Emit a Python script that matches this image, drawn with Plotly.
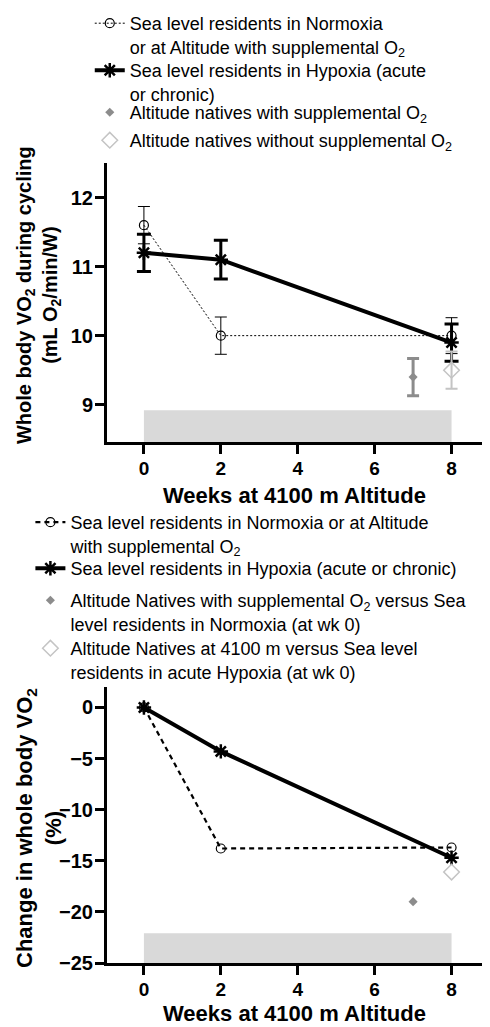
import plotly.graph_objects as go

# ---------------- data ----------------
weeks = [0, 2, 8]
vo2_normoxia = [11.6, 10.0, 10.0]
err_normoxia = [0.27, 0.27, 0.26]
vo2_hypoxia = [11.2, 11.1, 9.9]
err_hypoxia = [0.27, 0.28, 0.27]
natives_o2_week = [7]
vo2_natives_o2 = [9.4]
err_natives_o2 = [0.27]
natives_week = [8]
vo2_natives = [9.5]
err_natives = [0.27]

pct_normoxia = [0, -13.8, -13.7]
pct_hypoxia = [0, -4.3, -14.7]
pct_natives_o2 = [-19.0]
pct_natives = [-16.1]

altitude_period = [0, 8]
x_ticks = [0, 2, 4, 6, 8]

FONT = "Liberation Sans, Arial, sans-serif"

# ---------------- figure ----------------
fig = go.Figure()

# Top panel
fig.add_trace(go.Scatter(
    x=weeks, y=vo2_normoxia, mode="lines+markers",
    name="Sea level residents in Normoxia<br>or at Altitude with supplemental O<sub>2</sub>",
    line=dict(color="black", width=1, dash="2px,2px"),
    marker=dict(symbol="circle-open", size=9, color="black", line=dict(width=1.2)),
    error_y=dict(type="data", array=err_normoxia, thickness=1, width=6, color="black"),
    xaxis="x", yaxis="y", legend="legend"))
fig.add_trace(go.Scatter(
    x=weeks, y=vo2_hypoxia, mode="lines+markers",
    name="Sea level residents in Hypoxia (acute<br>or chronic)",
    line=dict(color="black", width=4),
    marker=dict(symbol="asterisk-open", size=12, color="black", line=dict(width=2.5, color="black")),
    error_y=dict(type="data", array=err_hypoxia, thickness=3, width=7, color="black"),
    xaxis="x", yaxis="y", legend="legend2"))
fig.add_trace(go.Scatter(
    x=natives_o2_week, y=vo2_natives_o2, mode="markers",
    name="Altitude natives with supplemental O<sub>2</sub>",
    marker=dict(symbol="diamond", size=7, color="#8c8c8c"),
    error_y=dict(type="data", array=err_natives_o2, thickness=3, width=6, color="#8c8c8c"),
    xaxis="x", yaxis="y", legend="legend3"))
fig.add_trace(go.Scatter(
    x=natives_week, y=vo2_natives, mode="markers",
    name="Altitude natives without supplemental O<sub>2</sub>",
    marker=dict(symbol="diamond-open", size=12, color="#c4c4c4", line=dict(width=1.5)),
    error_y=dict(type="data", array=err_natives, thickness=2, width=6, color="#c4c4c4"),
    xaxis="x", yaxis="y", legend="legend4"))

# Bottom panel
fig.add_trace(go.Scatter(
    x=weeks, y=pct_normoxia, mode="lines+markers",
    name="Sea level residents in Normoxia or at Altitude<br>with supplemental O<sub>2</sub>",
    line=dict(color="black", width=2.2, dash="5px,4px"),
    marker=dict(symbol="circle-open", size=9, color="black", line=dict(width=1.2)),
    xaxis="x2", yaxis="y2", legend="legend5"))
fig.add_trace(go.Scatter(
    x=weeks, y=pct_hypoxia, mode="lines+markers",
    name="Sea level residents in Hypoxia (acute or chronic)",
    line=dict(color="black", width=4),
    marker=dict(symbol="asterisk-open", size=12, color="black", line=dict(width=2.5, color="black")),
    xaxis="x2", yaxis="y2", legend="legend6"))
fig.add_trace(go.Scatter(
    x=natives_o2_week, y=pct_natives_o2, mode="markers",
    name="Altitude Natives with supplemental O<sub>2</sub> versus Sea<br>level residents in Normoxia (at wk 0)",
    marker=dict(symbol="diamond", size=7, color="#8c8c8c"),
    xaxis="x2", yaxis="y2", legend="legend7"))
fig.add_trace(go.Scatter(
    x=natives_week, y=pct_natives, mode="markers",
    name="Altitude Natives at 4100 m versus Sea level<br>residents in acute Hypoxia (at wk 0)",
    marker=dict(symbol="diamond-open", size=12, color="#c4c4c4", line=dict(width=1.5)),
    xaxis="x2", yaxis="y2", legend="legend8"))

top_range = [8.46, 12.5]
bot_range = [-25, 2]

# altitude period bars
fig.add_shape(type="rect", xref="x", yref="y", x0=altitude_period[0], x1=altitude_period[1],
              y0=top_range[0], y1=8.92, fillcolor="#d9d9d9", line=dict(width=0), layer="below")
fig.add_shape(type="rect", xref="x2", yref="y2", x0=altitude_period[0], x1=altitude_period[1],
              y0=bot_range[0], y1=-22.1, fillcolor="#d9d9d9", line=dict(width=0), layer="below")

axis_common = dict(showline=True, linewidth=3, linecolor="black", ticks="outside",
                   ticklen=9, tickwidth=3, tickcolor="black", showgrid=False, zeroline=False,
                   ticklabelstandoff=-2)
y_font = dict(family=FONT, size=20, color="black", weight="bold")
x_font = dict(family=FONT, size=19, color="black", weight="bold")


def legend_at(x, y):
    return dict(x=x, y=y, xanchor="left", yanchor="top", bgcolor="rgba(0,0,0,0)", valign="top",
                font=dict(family=FONT, size=18, color="black"), tracegroupgap=0, itemwidth=30)


# page body has an 8px default margin, so the figure is 8px smaller than the window
fig.update_layout(
    width=482, height=1019,
    margin=dict(l=99, r=0, t=155, b=64, autoexpand=False),
    plot_bgcolor="white", paper_bgcolor="white",
    font=dict(family=FONT, color="black"),
    xaxis=dict(domain=[0, 1], range=[-0.96, 9.0], tickvals=x_ticks, anchor="y", tickfont=x_font,
               **axis_common),
    yaxis=dict(domain=[0.65125, 1], range=top_range, tickvals=[9, 10, 11, 12], anchor="x",
               tickfont=y_font, **axis_common),
    xaxis2=dict(domain=[0, 1], range=[-0.96, 9.0], tickvals=x_ticks, anchor="y2", tickfont=x_font,
                **axis_common),
    yaxis2=dict(domain=[0, 0.345], range=bot_range, tickvals=[-25, -20, -15, -10, -5, 0], anchor="x2",
                tickfont=y_font, **axis_common),
    legend=legend_at(-0.045, 1.1975),
    legend2=legend_at(-0.045, 1.13875),
    legend3=legend_at(-0.045, 1.08625),
    legend4=legend_at(-0.045, 1.05125),
    legend5=legend_at(-0.2, 0.57375),
    legend6=legend_at(-0.2, 0.51625),
    legend7=legend_at(-0.2, 0.47625),
    legend8=legend_at(-0.2, 0.41625),
    showlegend=True,
)

fig.add_annotation(xref="paper", yref="paper", x=0.49, y=0.584, xanchor="center", yanchor="middle",
                   text="<b>Weeks at 4100 m Altitude</b>", showarrow=False,
                   font=dict(family=FONT, size=22, color="black"))
fig.add_annotation(xref="paper", yref="paper", x=0.49, y=-0.0625, xanchor="center", yanchor="middle",
                   text="<b>Weeks at 4100 m Altitude</b>", showarrow=False,
                   font=dict(family=FONT, size=22, color="black"))
fig.add_annotation(xref="paper", yref="paper", x=-0.18, y=0.835, xanchor="center", yanchor="middle",
                   textangle=-90, showarrow=False,
                   text="<b>Whole body VO<sub>2</sub> during cycling<br>(mL O<sub>2</sub>/min/W)</b>",
                   font=dict(family=FONT, size=20, color="black"))
fig.add_annotation(xref="paper", yref="paper", x=-0.177, y=0.169, xanchor="center", yanchor="middle",
                   textangle=-90, showarrow=False,
                   text="<b>Change in whole body VO<sub>2</sub><br>(%)</b>",
                   font=dict(family=FONT, size=22, color="black"))

fig.write_html("out.html")
